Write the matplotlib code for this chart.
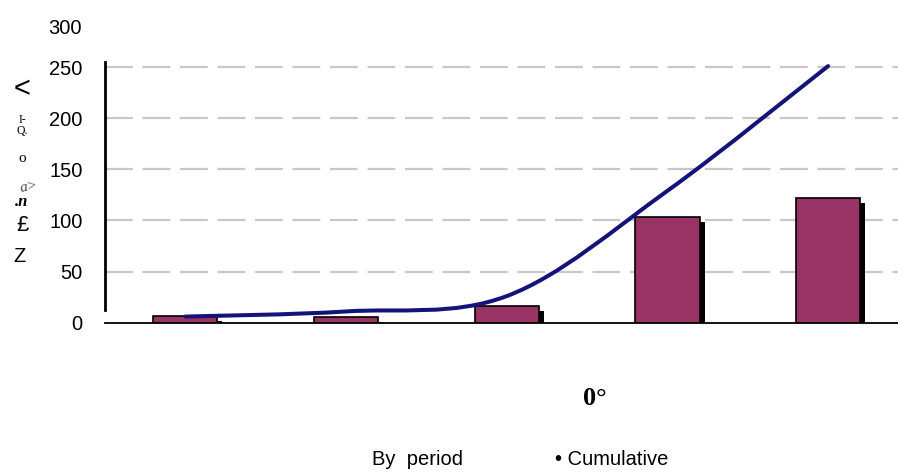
import matplotlib
matplotlib.use("Agg")
import matplotlib.pyplot as plt
import matplotlib.patheffects as pe
from matplotlib.path import Path
from matplotlib.patches import PathPatch
import numpy as np

# ---- data ----
periods = [0, 1, 2, 3, 4]
by_period = [7, 6, 16, 103, 122]
cumulative = [6, 11, 26, 129, 251]
ytick_values = [0, 50, 100, 150, 200, 250]
ytick_labels = ["0", "50", "100", "150", "200", "250"]
top_label = "300"
legend_labels = ["By  period", "\u2022 Cumulative"]
xaxis_label = "0\u00b0"

plt.rcParams['font.family'] = ['Liberation Sans', 'DejaVu Sans']
plt.rcParams['lines.scale_dashes'] = False

W, H = 898, 473
fig = plt.figure(figsize=(W / 100, H / 100), dpi=100)

def px(x, y):
    return (x / W, 1 - y / H)

ax_l, ax_r, ax_b, ax_t = 105, 898, 322.7, 62
ax = fig.add_axes([ax_l / W, 1 - ax_b / H, (ax_r - ax_l) / W, (ax_b - ax_t) / H])
ax.set_xlim(-0.5, 4.435)
ax.set_ylim(0, 255)

# grid
for v in ytick_values[1:]:
    ax.axhline(v, color='#c8c8c8', lw=1.6, dashes=(20, 7), zorder=0)

# bars with shadow
bars = ax.bar(periods, by_period, width=0.40, color='#993366',
              edgecolor='black', linewidth=1.2, zorder=2)
for b in bars:
    b.set_path_effects([pe.SimplePatchShadow(offset=(3.6, -3.6), shadow_rgbFace='black', alpha=1.0),
                        pe.Normal()])

# smoothed cumulative line (Bezier through data points)
xs = np.array(periods, dtype=float)
ys = np.array(cumulative, dtype=float)
n = len(xs)
verts = [(xs[0], ys[0])]
codes = [Path.MOVETO]
for i in range(n - 1):
    p0 = np.array([xs[max(i - 1, 0)], ys[max(i - 1, 0)]])
    p1 = np.array([xs[i], ys[i]])
    p2 = np.array([xs[i + 1], ys[i + 1]])
    p3 = np.array([xs[min(i + 2, n - 1)], ys[min(i + 2, n - 1)]])
    c1 = p1 + (p2 - p0) / 6.0
    c2 = p2 - (p3 - p1) / 6.0
    verts += [tuple(c1), tuple(c2), tuple(p2)]
    codes += [Path.CURVE4] * 3
line = PathPatch(Path(verts, codes), facecolor='none', edgecolor='#13137a',
                 lw=2.9, zorder=3, capstyle='round')
ax.add_patch(line)

# spines
for s in ['top', 'right']:
    ax.spines[s].set_visible(False)
ax.spines['left'].set_bounds(12, 255)
ax.spines['left'].set_linewidth(2.0)
ax.spines['bottom'].set_linewidth(1.3)
ax.set_xticks([])
ax.set_yticks(ytick_values)
ax.set_yticklabels(ytick_labels, fontsize=14.5)
ax.tick_params(axis='y', length=0, pad=16)

# 300 label above the axis
fig.text(*px(82, 29), top_label, fontsize=14.5, ha='right', va='center')

# garbled rotated y-axis label
fig.text(*px(22, 89), "<", fontsize=21, ha='center', va='center')
fig.text(*px(22, 120), "I-", fontsize=8.5, family='Liberation Serif', ha='center', va='center')
fig.text(*px(22, 131), "Q.", fontsize=8.5, family='Liberation Serif', ha='center', va='center')
fig.text(*px(22, 158), "o", fontsize=11, family='Liberation Serif', ha='center', va='center')
fig.text(*px(29, 187), "a>", fontsize=11, family='Liberation Serif', style='italic',
         color='#444444', ha='center', va='center', rotation=10)
fig.text(*px(22, 202), ".n", fontsize=12, family='Liberation Serif', style='italic',
         weight='bold', ha='center', va='center')
fig.text(*px(23, 225), "\u00a3", fontsize=16, ha='center', va='center')
fig.text(*px(19, 256), "Z", fontsize=14.5, ha='center', va='center')

# odd x label
fig.text(*px(595, 398), xaxis_label, fontsize=19, family='Liberation Serif',
         weight='bold', ha='center', va='center')

# legend texts
fig.text(*px(417, 459), legend_labels[0], fontsize=14.5, ha='center', va='center')
fig.text(*px(612, 459), legend_labels[1], fontsize=14.5, ha='center', va='center')

fig.savefig("out.png", dpi=100)
